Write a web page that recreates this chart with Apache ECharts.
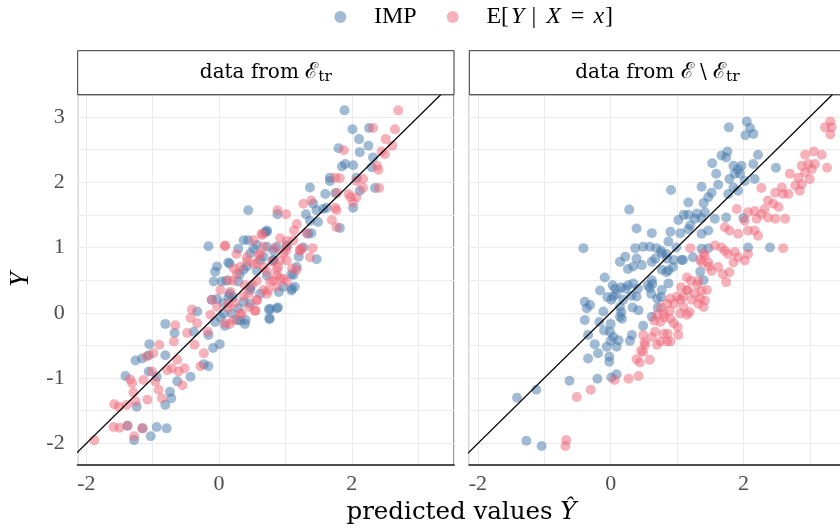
<!DOCTYPE html>
<html><head><meta charset="utf-8">
<script src="https://cdn.jsdelivr.net/npm/echarts@6/dist/echarts.min.js"></script>
<style>html,body{margin:0;padding:0;background:#fff}#c{width:840px;height:528px}</style>
</head><body><div id="c"></div>
<script>
// ---------- data ----------
const seriesNames = ['IMP', 'E[Y | X = x]'];
const seriesColors = ['#4477AA', '#EE6677'];
const xTickLabels = [-2, 0, 2];
const yTickLabels = [-2, -1, 0, 1, 2, 3];
const xRange = [-2.13, 3.54];
const yRange = [-2.325, 3.34];
const refLine = [[-3, -3], [4, 4]];

const leftImp = [[-1.28,-1.95],[-1.03,-1.89],[-0.94,-1.75],[-0.79,-1.77],[-1.38,-1.73],[-1.15,-1.77],[-1.24,-1.44],[-0.81,-1.41],[-0.72,-1.31],[-0.74,-1.21],[-0.63,-1.05],[-0.43,-0.98],[-1.41,-0.97],[-0.94,-0.98],[-1.06,-0.90],[-1.26,-0.73],[-1.16,-0.70],[-1.06,-0.65],[-1.05,-0.48],[-0.81,-0.65],[-0.16,-0.82],[-0.23,-0.79],[-0.09,-0.54],[0.01,-0.48],[-0.67,-0.31],[-0.81,-0.17],[-0.38,-0.29],[-0.16,-0.34],[-0.33,0.02],[-0.11,0.20],[-0.03,0.21],[-0.06,-0.14],[0.02,-0.07],[0.07,-0.01],[0.27,-0.11],[0.40,-0.11],[0.29,0.07],[0.75,0.05],[0.76,-0.08],[0.87,0.07],[-0.16,1.02],[-0.03,0.71],[-0.06,0.63],[-0.08,0.48],[0.04,0.48],[0.14,0.77],[0.29,0.48],[0.37,0.66],[0.47,0.91],[0.37,1.11],[0.72,1.24],[0.57,1.04],[0.47,0.35],[0.67,0.86],[0.90,0.32],[1.10,0.37],[1.12,0.58],[0.72,1.01],
[0.42,0.71],[0.62,0.81],[0.82,0.81],[0.97,0.40],[1.20,0.86],[0.87,1.01],[0.14,0.25],[0.37,0.17],[0.07,0.15],[0.19,-0.01],
[1.89,3.10],[2.01,2.81],[2.26,2.83],[2.11,2.66],[2.25,2.56],[1.80,2.52],[2.12,2.46],[2.32,2.38],[1.90,2.28],[2.02,2.26],[1.85,2.24],[2.30,2.23],[1.67,2.07],[1.67,2.02],[2.07,2.07],[1.37,1.92],[2.12,1.87],[2.35,1.91],[1.60,1.82],[1.75,1.83],[1.42,1.67],[1.62,1.61],[2.02,1.61],[1.31,1.51],[1.47,1.57],[1.57,1.59],[0.44,1.57],[0.88,1.51],[1.82,1.30],[1.49,1.39],[1.37,1.41],[1.39,1.22],[1.34,1.21],[0.72,1.26],[0.44,1.11],[1.27,1.00],[1.47,0.82],[1.02,1.03],[0.82,0.95],[1.17,0.70],[1.09,0.59],[1.09,0.34],[1.14,0.40],[0.89,0.08],[0.77,0.06],[0.76,-0.10],[0.62,0.29],[0.47,0.14],[0.32,-0.12],[0.09,-0.20],[0.39,-0.17],[0.21,0.24],[0.52,0.98],[0.69,1.23],[0.29,0.98],[0.16,0.75],[0.31,0.59],[0.57,0.64],[0.72,0.57],[0.11,0.49],[0.47,0.39],[0.16,0.29],[0.82,0.80]];

const leftExp = [[-1.88,-1.95],[-1.28,-1.89],[-1.59,-1.75],[-1.50,-1.76],[-1.38,-1.73],[-1.16,-1.77],[-1.58,-1.40],[-1.51,-1.44],[-1.39,-1.41],[-1.26,-1.36],[-0.86,-1.31],[-1.08,-1.33],[-1.29,-1.22],[-0.91,-1.18],[-0.55,-1.11],[-1.34,-1.02],[-1.31,-1.08],[-1.14,-1.03],[-0.96,-1.05],[-1.01,-0.90],[-0.78,-0.88],[-0.61,-0.90],[-0.52,-0.85],[-0.71,-0.85],[-1.09,-0.67],[-0.99,-0.62],[-0.90,-0.49],[-0.63,-0.72],[-0.28,-0.82],[-0.23,-0.62],[-0.37,-0.49],[-0.68,-0.44],[-0.66,-0.19],[-0.48,-0.31],[-0.33,-0.16],[-0.17,-0.29],[-0.41,0.05],[-0.43,-0.08],[-0.13,-0.03],[-0.11,0.20],[0.09,-0.16],[0.22,-0.11],[0.32,-0.01],[0.55,0.03],[0.09,1.02],[0.02,0.35],[0.22,0.68],[0.27,0.60],[0.14,0.50],[0.17,0.32],[0.42,0.78],[0.52,1.11],[0.65,1.19],[0.60,0.88],[0.57,0.76],[0.50,0.43],[0.57,0.20],[0.67,0.35],[0.72,0.63],[0.77,0.48],[0.87,0.66],[0.92,0.53],[1.02,0.48],[1.10,0.68],[0.97,0.91],[1.12,1.11],[1.02,1.01],[1.32,1.22],[1.22,0.96],
[0.37,0.25],[0.24,0.15],[0.45,0.09],[0.80,0.78],[0.87,0.40],[1.17,0.66],[-0.03,0.09],[0.14,0.07],[0.67,1.01],[0.92,1.14],
[2.70,3.10],[2.32,2.83],[2.65,2.81],[2.51,2.66],[2.61,2.56],[1.88,2.49],[2.45,2.47],[2.50,2.43],[2.38,2.25],[2.40,2.19],[1.75,2.07],[1.82,2.06],[2.17,2.05],[2.07,2.02],[2.17,1.91],[2.41,1.91],[1.78,1.84],[1.95,1.82],[2.07,1.77],[1.27,1.67],[1.39,1.72],[1.75,1.61],[2.02,1.69],[1.98,1.77],[1.77,1.57],[0.88,1.57],[1.01,1.51],[1.70,1.42],[1.77,1.31],[1.17,1.36],[1.13,1.26],[1.02,1.10],[0.64,1.21],[0.09,1.03],[1.24,0.99],[1.41,0.99],[1.37,0.85],[1.22,0.95],[1.01,0.95],[0.84,0.99],[0.92,0.80],[1.02,0.80],[0.89,0.70],[0.87,0.57],[0.97,0.52],[0.74,0.34],[0.54,0.03],[0.57,0.19],[0.72,0.29],[0.34,-0.02],[0.16,-0.17],[0.26,0.90],[0.42,0.85],[0.52,0.75],[0.62,0.90],[0.32,0.70],[0.21,0.49],[0.39,0.42],[0.57,0.49],[0.67,0.70],[0.14,0.14],[0.44,0.29],[0.82,0.49]];

const rightImp = [[-1.27,-1.96],[-1.04,-2.04],[-1.41,-1.30],[-1.12,-1.18],[-0.62,-1.04],[-0.20,-1.01],[0.01,-0.99],[0.09,-0.94],[-0.34,-0.70],[-0.19,-0.62],[-0.02,-0.75],[-0.02,-0.67],[-0.06,-0.52],[-0.24,-0.48],[-0.34,-0.34],[-0.01,-0.29],[0.04,-0.37],[0.12,-0.42],[0.09,-0.52],[0.32,-0.34],[0.29,-0.43],[0.49,-0.20],[0.62,-0.06],[-0.17,-0.14],[-0.11,0.02],[-0.39,-0.11],[-0.36,0.07],[-0.31,0.12],[-0.39,0.17],[-0.16,0.34],[0.04,0.25],[0.01,0.20],[0.09,0.29],[0.14,-0.06],[0.17,-0.09],[0.14,0.09],[0.19,0.20],[0.07,0.37],[0.22,0.37],[0.42,0.04],[0.39,0.25],[0.34,0.45],[-0.09,0.54],[-0.41,0.99],[0.28,1.58],[0.14,0.78],[0.22,0.86],[0.34,0.71],[0.37,0.99],[0.39,0.83],[0.47,0.73],[0.39,1.29],[0.62,1.22],[0.49,1.01],[0.59,1.01],[0.69,0.99],[0.62,0.78],[0.67,0.83],[0.77,0.91],[0.77,0.66],[0.87,0.65],[0.85,0.83],[0.87,1.09],[0.90,1.24],[0.95,0.81],[1.05,1.22],[0.87,0.45],[0.62,0.50],[0.59,0.38],[0.77,0.35],[0.70,0.22],[1.07,0.81],[1.02,1.42],[1.10,1.50],[1.17,1.50],[1.20,1.34],[1.35,0.63],[1.40,0.50],[1.30,1.52],[1.17,1.69],[1.40,1.68],
[0.76,0.95],[0.84,0.90],[0.99,1.00],[0.26,0.67],[0.94,0.70],[0.84,0.62],[0.03,0.42],[0.16,0.39],[0.26,0.42],[0.41,0.37],[0.56,0.42],[0.63,0.44],[0.61,0.29],[-0.05,0.24],[0.31,0.26],[0.33,0.08],[0.16,0.01],[0.00,-0.17],[-0.10,-0.27],[0.71,0.08],[0.76,0.24],[0.00,-0.43],[1.27,1.44],[1.37,1.45],[1.42,1.54],[1.17,1.28],[1.37,1.21],[1.47,1.26],[1.24,0.85],[1.37,0.98],[1.47,0.99],[1.09,0.81],
[2.05,2.93],[1.78,2.84],[2.10,2.83],[2.03,2.72],[2.15,2.74],[2.22,2.42],[1.76,2.47],[1.67,2.41],[1.74,2.38],[2.49,2.22],[2.15,2.28],[2.17,2.05],[1.53,2.29],[1.85,2.25],[1.92,2.20],[1.97,2.25],[1.87,2.13],[1.95,2.13],[2.02,2.02],[1.79,2.05],[1.85,1.92],[1.92,1.87],[1.77,1.82],[1.59,2.13],[1.62,1.96],[1.37,1.93],[1.52,1.84],[1.47,1.77],[0.91,1.88],[1.57,1.44],[1.74,1.46],[2.00,1.45],[2.07,1.00],[2.40,1.00]];

const rightExp = [[-0.67,-1.95],[-0.68,-2.04],[-0.51,-1.29],[-0.30,-1.18],[0.06,-1.03],[0.27,-1.01],[0.42,-0.97],[0.39,-0.71],[0.44,-0.76],[0.59,-0.72],[0.49,-0.60],[0.52,-0.49],[0.49,-0.34],[0.62,-0.37],[0.67,-0.29],[0.70,-0.49],[0.75,-0.44],[0.80,-0.32],[0.85,-0.44],[0.90,-0.44],[1.02,-0.34],[0.70,-0.03],[0.80,-0.01],[0.90,-0.09],[0.95,-0.16],[0.75,-0.14],[0.85,0.14],[0.90,0.22],[1.00,0.25],[1.05,0.20],[1.10,0.09],[1.15,0.35],[1.15,-0.03],[1.05,-0.01],[1.22,0.20],[1.15,0.54],[1.30,0.43],[1.35,0.81],[1.40,0.91],[1.20,0.99],[1.35,0.22],[1.45,0.35],[1.40,0.09],[1.48,0.71],
[1.42,0.87],[1.47,0.77],[1.37,0.77],[1.32,0.49],[1.37,0.34],[1.42,0.19],[1.21,0.49],[1.06,0.39],[1.16,0.34],[1.27,0.29],[1.09,0.24],[0.96,0.14],[1.19,0.01],[1.32,0.14],[0.89,0.03],[0.76,0.08],[0.81,-0.07],[1.01,-0.22],[0.86,-0.32],[0.66,-0.12],[0.51,-0.45],[0.46,-0.58],
[3.31,2.93],[3.23,2.84],[3.31,2.73],[3.33,2.84],[3.06,2.47],[3.18,2.42],[2.93,2.42],[2.88,2.25],[2.98,2.28],[2.93,2.15],[3.03,2.20],[3.08,2.28],[3.26,2.22],[2.83,2.07],[2.88,1.97],[3.00,2.05],[2.70,2.13],[2.78,1.95],[2.85,1.87],[2.58,1.92],[2.60,1.82],[2.68,1.82],[2.48,1.84],[2.37,1.72],[2.45,1.67],[2.32,1.59],[2.53,1.62],[2.27,1.91],[1.90,1.59],[2.07,1.54],[2.17,1.56],[2.27,1.51],[2.37,1.46],[2.48,1.44],[2.63,1.44],[2.20,1.44],[2.02,1.41],[1.72,1.31],[1.79,1.26],[1.92,1.21],[2.07,1.26],[2.17,1.26],[2.22,1.18],[2.60,0.99],[1.57,1.03],[1.67,1.00],[1.72,0.95],[1.77,0.90],[1.87,0.93],[1.92,0.85],[2.07,0.90],[2.02,0.80],[1.85,0.77],[1.52,0.64],[1.62,0.70],[1.69,0.59],[1.79,0.62],[1.74,0.47]];

const panelData = [[leftImp, leftExp], [rightImp, rightExp]];

// ---------- chart ----------
const FONT = "'Liberation Serif', 'DejaVu Serif', serif";
const TFONT = "'DejaVu Serif', 'Liberation Serif', serif";
const chart = echarts.init(document.getElementById('c'), null, {renderer: 'canvas'});
const gridBoxes = [
  {left: 77.7, top: 94.7, width: 376.3, height: 369.9},
  {left: 469.3, top: 94.7, width: 376.3, height: 369.9}
];
const stripTop = 50.7, stripH = 44;

const grids = gridBoxes.map(g => Object.assign({
  show: true, borderColor: '#333333', borderWidth: 1, backgroundColor: 'transparent',
  containLabel: false, outerBoundsMode: 'none'
}, g));

const xAxes = gridBoxes.map((g, i) => ({
  type: 'value', gridIndex: i, min: xRange[0], max: xRange[1], splitNumber: 5,
  axisLine: {show: true, onZero: false, lineStyle: {color: '#4d4d4d', width: 2}},
  axisTick: {show: false},
  axisLabel: {
    color: '#4d4d4d', fontFamily: FONT, fontSize: 22, margin: 9, hideOverlap: false,
    showMinLabel: false, showMaxLabel: false,
    formatter: v => xTickLabels.some(t => Math.abs(t - v) < 1e-9) ? String(v) : ''
  },
  splitLine: {show: true, lineStyle: {color: '#ebebeb', width: 1}}
}));
const yAxes = gridBoxes.map((g, i) => ({
  type: 'value', gridIndex: i, min: yRange[0], max: yRange[1], splitNumber: 11,
  axisLine: {show: false}, axisTick: {show: false},
  axisLabel: {
    show: i === 0, color: '#4d4d4d', fontFamily: FONT, fontSize: 22, margin: 13, hideOverlap: false,
    showMinLabel: false, showMaxLabel: false,
    formatter: v => yTickLabels.some(t => Math.abs(t - v) < 1e-9) ? String(v) : ''
  },
  splitLine: {show: true, lineStyle: {color: '#ebebeb', width: 1}}
}));

const series = [];
panelData.forEach((pair, p) => {
  pair.forEach((pts, s) => {
    series.push({
      type: 'scatter', name: seriesNames[s], xAxisIndex: p, yAxisIndex: p,
      data: pts, symbol: 'circle', symbolSize: 10, silent: true,
      itemStyle: {color: seriesColors[s], opacity: 0.5},
      emphasis: {disabled: true}, z: 2
    });
  });
  series.push({
    type: 'line', xAxisIndex: p, yAxisIndex: p, data: refLine, clip: true,
    symbol: 'none', silent: true, lineStyle: {color: '#000', width: 1.3}, z: 3
  });
});

const stripTitles = ['{n|data from }{e|ℰ}{s|tr}', '{n|data from }{e|ℰ}{n| \\ }{e|ℰ}{s|tr}'];
const richStrip = {
  n: {fontFamily: TFONT, fontSize: 20, color: '#1a1a1a', lineHeight: 24},
  e: {fontFamily: TFONT, fontSize: 22, color: '#1a1a1a', lineHeight: 24},
  s: {fontFamily: TFONT, fontSize: 15.5, color: '#1a1a1a', lineHeight: 15, verticalAlign: 'bottom'}
};
const graphics = [];
gridBoxes.forEach((g, i) => {
  graphics.push({
    type: 'rect', shape: {x: g.left, y: stripTop, width: g.width, height: stripH},
    style: {fill: '#fff', stroke: '#333333', lineWidth: 1}, silent: true, z: 10
  });
  graphics.push({
    type: 'text', x: g.left + g.width / 2, y: stripTop + stripH / 2, silent: true, z: 11,
    style: {text: stripTitles[i], rich: richStrip, align: 'center', verticalAlign: 'middle'}
  });
});
graphics.push({
  type: 'text', x: 461.5, y: 513, silent: true,
  style: {
    text: '{n|predicted values }{i|Ŷ}', align: 'center', verticalAlign: 'middle',
    rich: {n: {fontFamily: TFONT, fontSize: 24.5, color: '#000'}, i: {fontFamily: TFONT, fontSize: 24.5, fontStyle: 'italic', color: '#000'}}
  }
});
graphics.push({
  type: 'text', x: 21, y: 279.6, rotation: Math.PI / 2, silent: true,
  style: {text: 'Y', fontFamily: FONT, fontSize: 27, fontStyle: 'italic', fill: '#000', align: 'center', verticalAlign: 'middle'}
});

chart.setOption({
  animation: false,
  backgroundColor: '#fff',
  legend: {
    data: seriesNames, left: 329.3, top: 0, itemWidth: 57.4, itemHeight: 12, itemGap: 30,
    icon: 'circle', selectedMode: false,
    itemStyle: {opacity: 0.5},
    textStyle: {
      fontFamily: FONT, fontSize: 24, color: '#000',
      rich: {
        r: {fontFamily: FONT, fontSize: 24, color: '#000'},
        i: {fontFamily: FONT, fontSize: 24, color: '#000', fontStyle: 'italic', padding: [0, 2, 0, 2]},
        j: {fontFamily: FONT, fontSize: 24, color: '#000', fontStyle: 'italic', padding: [0, 1, 0, 1]},
        b: {fontFamily: FONT, fontSize: 24, color: '#000', padding: [0, 8, 0, 5]},
        q: {fontFamily: FONT, fontSize: 24, color: '#000', padding: [0, 8, 0, 8]}
      }
    },
    formatter: name => name === 'IMP' ? 'IMP' : '{r|E[}{i|Y}{b||}{i|X}{q|=}{j|x}{r|]}'
  },
  grid: grids, xAxis: xAxes, yAxis: yAxes, series: series, graphic: graphics
});
</script></body></html>
